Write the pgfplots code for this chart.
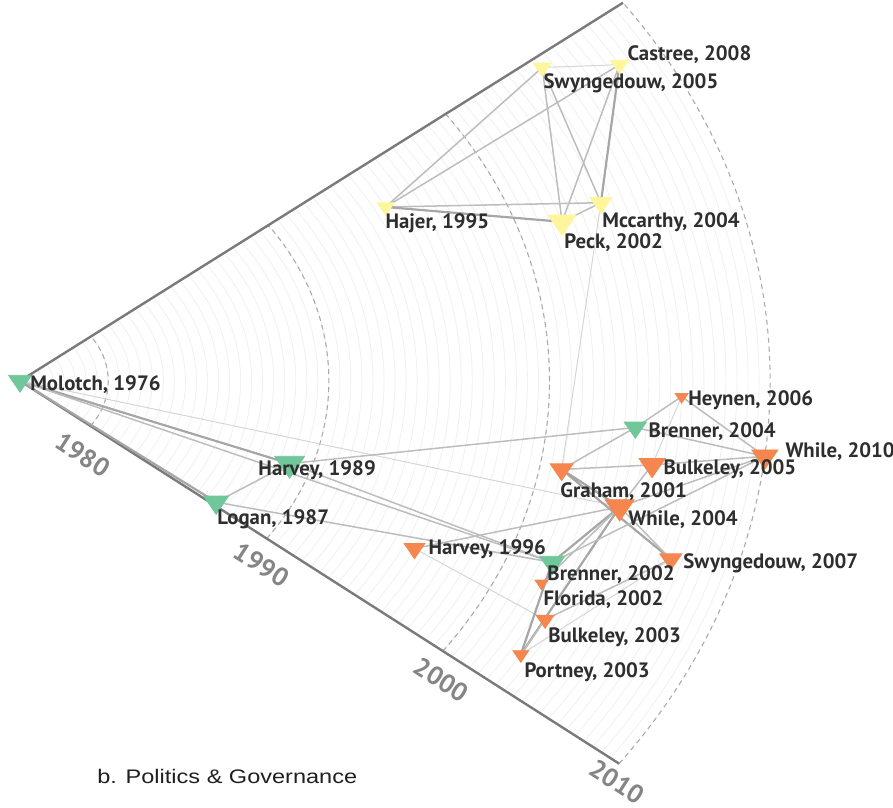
\documentclass[border=0pt]{standalone}
\usepackage{pgfplots}
\pgfplotsset{compat=1.18}
\usepackage{pgfplotstable}
\usepackage{graphicx}
\usepackage{fontspec}
\setmainfont{Liberation Sans}
\newfontfamily\labfont{PT Sans}
\definecolor{mygreen}{HTML}{6FC79A}
\definecolor{myorange}{HTML}{F5864E}
\definecolor{myyellow}{HTML}{FFF59A}
\definecolor{labcol}{HTML}{2E2E2E}
\definecolor{yrcol}{HTML}{858585}
\definecolor{edgecol}{HTML}{7A7A7A}
\definecolor{majgrid}{HTML}{ABABAB}
\definecolor{mingrid}{HTML}{F1F1F1}
\definecolor{ecA}{HTML}{D6D6D6}
\definecolor{ecB}{HTML}{BDBDBD}
\definecolor{ecC}{HTML}{A6A6A6}
\pgfplotsset{
  e1/.style={no marks, color=ecA, line width=0.5pt},
  e2/.style={no marks, color=ecB, line width=0.75pt},
  e3/.style={no marks, color=ecC, line width=1.1pt},
  tri/.style={
    visualization depends on={\thisrow{s} \as \msz},
    scatter/@pre marker code/.append style={/tikz/mark size=\msz pt},
    mark options={rotate=180, xscale=1.18}},
}
\tikzset{
  lbl/.style={font=\labfont\bfseries\fontsize{10.4}{12}\selectfont, text=labcol, anchor=west, inner sep=0pt},
  yr/.style={font=\labfont\bfseries\fontsize{13}{15}\selectfont, text=yrcol, rotate=-32.7, inner sep=0pt},
}
% x, y: position in year units (radius = year - 1976); s: marker size (pt)
\pgfplotstableread{
x y s
0 0 5.6
12.22 -4.42 7.3
8.89 -6.48 6.1
27.89 -2.49 5.4
24.12 -9.70 6.1
}\greentab
\pgfplotstableread{
x y s
16.57 9.30 4.2
24.57 8.51 6.85
26.33 9.53 5.4
23.67 16.76 4.4
27.17 16.91 4.4
}\yellowtab
\pgfplotstableread{
x y s
29.99 -0.84 3.2
33.76 -4.03 6.4
28.65 -4.49 6.4
24.55 -4.73 5.6
27.18 -6.73 7.1
29.50 -9.53 5.4
23.64 -10.82 3.2
23.80 -12.76 4.4
22.70 -14.63 3.9
17.88 -8.96 5.1
}\orangetab
\begin{document}
\begin{tikzpicture}
\begin{axis}[
  x=11.03pt, y=9.35pt,
  xmin=-0.907, xmax=39.57, ymin=-22.83, ymax=20.37,
  hide axis, clip=false, set layers=standard,
]
% polar grid: one arc every half year, dashed every decade
\pgfplotsinvokeforeach{0.5,1,...,33.5}{
  \draw[mingrid, line width=0.45pt] (axis cs:0,0) ++(-37:{#1*11.03pt} and {#1*9.35pt})
    arc[start angle=-37, end angle=36.5, x radius={#1*11.03pt}, y radius={#1*9.35pt}];
}
\pgfplotsinvokeforeach{4,14,24,34}{
  \draw[majgrid, line width=0.55pt, dash pattern=on 2.5pt off 2pt] (axis cs:0,0) ++(-37:{#1*11.03pt} and {#1*9.35pt})
    arc[start angle=-37, end angle=36.5, x radius={#1*11.03pt}, y radius={#1*9.35pt}];
}
\draw[edgecol, line width=1.2pt] (axis cs:0,0) ++(36.5:{34*11.03pt} and {34*9.35pt}) -- (axis cs:0,0) -- ++(-37:{34*11.03pt} and {34*9.35pt});
% edges: top cluster
\addplot[e2] coordinates {(16.57,9.30) (23.67,16.76)};
\addplot[e2] coordinates {(16.57,9.30) (27.17,16.91)};
\addplot[e2] coordinates {(16.57,9.30) (26.33,9.53)};
\addplot[e3] coordinates {(16.57,9.30) (24.57,8.51)};
\addplot[e1] coordinates {(23.67,16.76) (27.17,16.91)};
\addplot[e2] coordinates {(23.67,16.76) (24.57,8.51)};
\addplot[e2] coordinates {(23.67,16.76) (26.33,9.53)};
\addplot[e2] coordinates {(27.17,16.91) (24.57,8.51)};
\addplot[e3] coordinates {(27.17,16.91) (26.33,9.53)};
\addplot[e2] coordinates {(24.57,8.51) (26.33,9.53)};
\addplot[e1] coordinates {(26.33,9.53) (24.55,-4.73)};
% edges: Molotch and early works
\addplot[e3] coordinates {(0,0) (8.89,-6.48)};
\addplot[e3] coordinates {(0,0) (12.22,-4.42)};
\addplot[e2] coordinates {(0,0) (24.12,-9.70)};
\addplot[e1] coordinates {(0,0) (27.18,-6.73)};
\addplot[e2] coordinates {(12.22,-4.42) (8.89,-6.48)};
\addplot[e2] coordinates {(12.22,-4.42) (27.89,-2.49)};
\addplot[e2] coordinates {(12.22,-4.42) (24.12,-9.70)};
\addplot[e2] coordinates {(8.89,-6.48) (24.12,-9.70)};
\addplot[e1] coordinates {(17.88,-8.96) (23.80,-12.76)};
\addplot[e2] coordinates {(17.88,-8.96) (27.18,-6.73)};
% edges: right cluster
\addplot[e2] coordinates {(27.89,-2.49) (29.99,-0.84)};
\addplot[e2] coordinates {(27.89,-2.49) (24.55,-4.73)};
\addplot[e2] coordinates {(27.89,-2.49) (33.76,-4.03)};
\addplot[e2] coordinates {(29.99,-0.84) (33.76,-4.03)};
\addplot[e1] coordinates {(29.99,-0.84) (28.65,-4.49)};
\addplot[e2] coordinates {(24.55,-4.73) (28.65,-4.49)};
\addplot[e3] coordinates {(24.55,-4.73) (27.18,-6.73)};
\addplot[e3] coordinates {(24.55,-4.73) (29.50,-9.53)};
\addplot[e2] coordinates {(28.65,-4.49) (27.18,-6.73)};
\addplot[e2] coordinates {(28.65,-4.49) (33.76,-4.03)};
\addplot[e2] coordinates {(27.18,-6.73) (33.76,-4.03)};
\addplot[e2] coordinates {(29.50,-9.53) (27.18,-6.73)};
\addplot[e3] coordinates {(24.12,-9.70) (27.18,-6.73)};
\addplot[e2] coordinates {(23.64,-10.82) (27.18,-6.73)};
\addplot[e3] coordinates {(22.70,-14.63) (27.18,-6.73)};
\addplot[e3] coordinates {(22.70,-14.63) (24.12,-9.70)};
\addplot[e2] coordinates {(22.70,-14.63) (23.80,-12.76)};
\addplot[e2] coordinates {(23.80,-12.76) (29.50,-9.53)};
\addplot[e2] coordinates {(24.12,-9.70) (33.76,-4.03)};
\addplot[e1] coordinates {(22.70,-14.63) (29.50,-9.53)};
% nodes
\addplot[scatter, only marks, mark=triangle*, scatter/use mapped color={draw=mygreen, fill=mygreen}, tri] table[x=x, y=y] {\greentab};
\addplot[scatter, only marks, mark=triangle*, scatter/use mapped color={draw=myyellow, fill=myyellow}, tri] table[x=x, y=y] {\yellowtab};
\addplot[scatter, only marks, mark=triangle*, scatter/use mapped color={draw=myorange, fill=myorange}, tri] table[x=x, y=y] {\orangetab};
% labels (on top of the markers)
\begin{pgfonlayer}{axis foreground}
\node[lbl] at (axis cs:0.45,-0.21) {Molotch, 1976};
\node[lbl] at (axis cs:10.79,-4.76) {Harvey, 1989};
\node[lbl] at (axis cs:8.93,-7.38) {Logan, 1987};
\node[lbl] at (axis cs:16.55,8.45) {Hajer, 1995};
\node[lbl] at (axis cs:24.66,7.38) {Peck, 2002};
\node[lbl] at (axis cs:26.38,8.50) {Mccarthy, 2004};
\node[lbl] at (axis cs:23.71,15.94) {Swyngedouw, 2005};
\node[lbl] at (axis cs:27.52,17.43) {Castree, 2008};
\node[lbl] at (axis cs:30.28,-1.02) {Heynen, 2006};
\node[lbl] at (axis cs:28.47,-2.73) {Brenner, 2004};
\node[lbl] at (axis cs:34.68,-3.80) {While, 2010};
\node[lbl] at (axis cs:29.15,-4.71) {Bulkeley, 2005};
\node[lbl] at (axis cs:24.48,-5.94) {Graham, 2001};
\node[lbl] at (axis cs:27.56,-7.43) {While, 2004};
\node[lbl] at (axis cs:30.05,-9.73) {Swyngedouw, 2007};
\node[lbl] at (axis cs:23.89,-10.37) {Brenner, 2002};
\node[lbl] at (axis cs:23.71,-11.71) {Florida, 2002};
\node[lbl] at (axis cs:23.93,-13.69) {Bulkeley, 2003};
\node[lbl] at (axis cs:22.85,-15.56) {Portney, 2003};
\node[lbl] at (axis cs:18.50,-8.98) {Harvey, 1996};
% year labels along the lower edge
\node[yr] at (axis cs:2.85,-3.95) {1980};
\node[yr] at (axis cs:10.95,-9.85) {1990};
\node[yr] at (axis cs:19.10,-16.0) {2000};
\node[yr] at (axis cs:27.06,-21.45) {2010};
% panel title
\node[anchor=base west, inner sep=0pt, font=\fontsize{9.8}{12}\selectfont, text=black!88] at (axis cs:3.49,-21.5) {\scalebox{1.2}[1]{b. Politics \& Governance}};
\end{pgfonlayer}
\end{axis}
\pgfresetboundingbox
\useasboundingbox (current axis.south west) rectangle (current axis.north east);
\end{tikzpicture}
\end{document}
